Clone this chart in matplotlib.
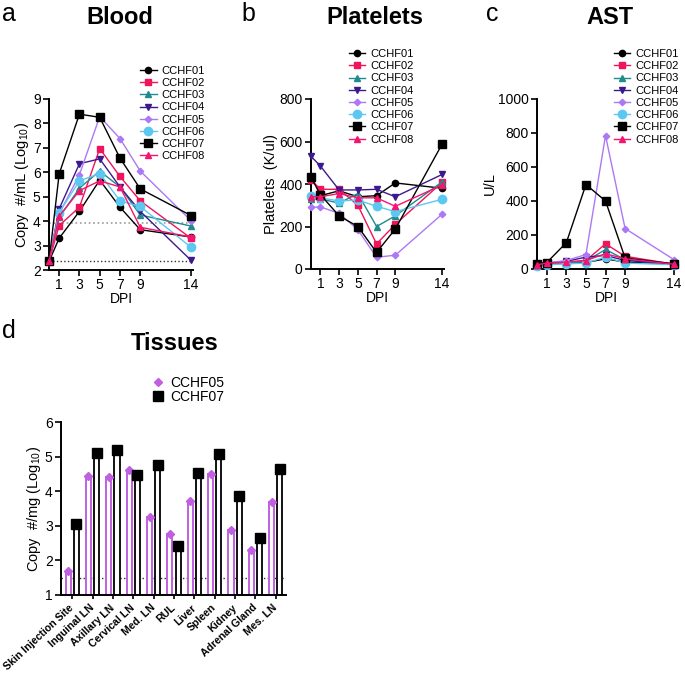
import numpy as np
import matplotlib
matplotlib.use("Agg")
import matplotlib.pyplot as plt

plt.rcParams['font.family'] = ['Liberation Sans', 'DejaVu Sans']
plt.rcParams['mathtext.default'] = 'regular'

days = [0, 1, 3, 5, 7, 9, 14]
animals = ['CCHF01', 'CCHF02', 'CCHF03', 'CCHF04', 'CCHF05', 'CCHF06', 'CCHF07', 'CCHF08']
colors = ['#000000', '#F0145A', '#1E8C8C', '#3C1A8C', '#AD78F5', '#5CC8F2', '#000000', '#F5146E']
markers = ['o', 's', '^', 'v', 'D', 'o', 's', '^']
msizes = [4.5, 5, 5, 5, 3.3, 6, 6, 5]

# viral RNA in blood, log10 copies/mL
blood = [
    [2.35, 3.30, 4.40, 5.68, 4.57, 3.65, 3.35],
    [2.35, 3.82, 4.57, 6.97, 5.83, 4.83, 3.30],
    [2.35, 4.15, 5.35, 6.05, 5.40, 4.25, 3.80],
    [2.35, 4.50, 6.35, 6.55, 5.40, 4.40, 2.40],
    [2.35, 4.30, 5.90, 8.28, 7.38, 6.05, 4.02],
    [2.35, 4.35, 5.65, 5.95, 4.83, 4.60, 2.93],
    [2.35, 5.93, 8.38, 8.25, 6.58, 5.32, 4.23],
    [2.35, 4.20, 5.25, 5.65, 5.40, 3.75, 3.35],
]
blood_lod = [3.92, 2.35]

platelets = [
    [335, 345, 368, 340, 345, 405, 380],
    [420, 375, 375, 300, 118, 210, 408],
    [330, 330, 310, 355, 200, 250, 410],
    [530, 485, 372, 372, 375, 340, 445],
    [290, 292, 262, 185, 55, 65, 258],
    [345, 335, 320, 325, 295, 270, 328],
    [432, 350, 250, 200, 78, 188, 588],
    [340, 340, 355, 335, 335, 295, 395],
]

ast = [
    [30, 38, 35, 38, 60, 40, 30],
    [25, 32, 40, 50, 148, 75, 28],
    [20, 25, 35, 45, 115, 55, 25],
    [25, 35, 45, 70, 80, 50, 30],
    [25, 35, 50, 85, 785, 238, 55],
    [20, 25, 30, 35, 70, 35, 25],
    [30, 38, 155, 497, 400, 65, 30],
    [25, 35, 40, 50, 90, 60, 28],
]

tissues = ['Skin Injection Site', 'Inguinal LN', 'Axillary LN', 'Cervical LN', 'Med. LN', 'RUL',
           'Liver', 'Spleen', 'Kidney', 'Adrenal Gland', 'Mes. LN']
tis05 = [1.70, 4.43, 4.42, 4.60, 3.25, 2.77, 3.73, 4.50, 2.87, 2.30, 3.68]
tis07 = [3.05, 5.10, 5.20, 4.47, 4.75, 2.43, 4.53, 5.08, 3.87, 2.65, 4.65]
tissue_lod = 1.5

fig = plt.figure(figsize=(6.85, 6.75), dpi=100)
W, H = 685.0, 675.0


def add_ax(l, t, r, b):
    return fig.add_axes([l / W, 1 - b / H, (r - l) / W, (b - t) / H])


def style(ax):
    for s in ['top', 'right']:
        ax.spines[s].set_visible(False)
    for s in ['left', 'bottom']:
        ax.spines[s].set_linewidth(1.4)
    ax.tick_params(width=1.2, length=4, labelsize=10, pad=2)


def line_panel(ax, data, ylim, yticks, ylabel, leg_anchor):
    for i in range(len(animals)):
        ax.plot(days, data[i], color=colors[i], marker=markers[i], ms=msizes[i],
                lw=1, label=animals[i], clip_on=False, zorder=3 + i * 0.1)
    ax.set_xlim(0, 14.2)
    ax.set_ylim(*ylim)
    ax.set_xticks([1, 3, 5, 7, 9, 14])
    ax.set_yticks(yticks)
    ax.set_xlabel('DPI', fontsize=10, labelpad=0)
    ax.set_ylabel(ylabel, fontsize=10.5, labelpad=1)
    style(ax)
    ax.legend(loc='upper left', bbox_to_anchor=leg_anchor, frameon=False, fontsize=8,
              handlelength=1.5, handletextpad=0.45, labelspacing=0.2, borderaxespad=0)


ax_a = add_ax(49, 99, 193, 270)
line_panel(ax_a, blood, (2, 9), range(2, 10), 'Copy  #/mL (Log$_{10}$)', (0.6, 1.22))
ax_a.axhline(blood_lod[0], color='#999999', ls=':', lw=1.2, zorder=1)
ax_a.axhline(blood_lod[1], color='#333333', ls=':', lw=1.0, zorder=1)

ax_b = add_ax(311, 99, 444, 269)
line_panel(ax_b, platelets, (0, 800), range(0, 801, 200), 'Platelets  (K/ul)', (0.25, 1.32))

ax_c = add_ax(537, 99, 676, 269)
line_panel(ax_c, ast, (0, 1000), range(0, 1001, 200), 'U/L', (0.52, 1.32))

fig.text(0.003, 0.997, 'a', fontsize=18, va='top', ha='left')
fig.text(0.352, 0.997, 'b', fontsize=18, va='top', ha='left')
fig.text(0.709, 0.997, 'c', fontsize=18, va='top', ha='left')
fig.text(0.003, 0.527, 'd', fontsize=18, va='top', ha='left')
fig.text(120 / W, 1 - 18 / H, 'Blood', fontsize=17, fontweight='bold', ha='center', va='center')
fig.text(375 / W, 1 - 18 / H, 'Platelets', fontsize=17, fontweight='bold', ha='center', va='center')
fig.text(610 / W, 1 - 18 / H, 'AST', fontsize=17, fontweight='bold', ha='center', va='center')
fig.text(175 / W, 1 - 343 / H, 'Tissues', fontsize=17, fontweight='bold', ha='center', va='center')

# tissues panel
ax_d = add_ax(61, 422, 286, 595)
style(ax_d)
x = np.arange(len(tissues))
off = 0.2
ax_d.bar(x - off, np.array(tis05) - 1, bottom=1, width=0.25, facecolor='white',
         edgecolor='#C060E0', lw=1.4, zorder=2)
ax_d.bar(x + off, np.array(tis07) - 1, bottom=1, width=0.25, facecolor='white',
         edgecolor='#111111', lw=1.4, zorder=2)
ax_d.plot(x - off, tis05, ls='none', marker='D', ms=4.5, color='#C060E0', zorder=3,
          label='CCHF05', clip_on=False)
ax_d.plot(x + off, tis07, ls='none', marker='s', ms=6.5, color='black', zorder=3,
          label='CCHF07', clip_on=False)
ax_d.axhline(tissue_lod, color='#333333', ls=':', lw=1.0, zorder=1)
ax_d.set_xlim(-0.55, 10.5)
ax_d.set_ylim(1, 6)
ax_d.set_yticks(range(1, 7))
ax_d.set_xticks(x)
ax_d.tick_params(axis='x', length=3, pad=5)
ax_d.set_xticklabels(tissues, rotation=43, ha='right', va='center', rotation_mode='anchor',
                     fontsize=7.6, fontweight='bold')
ax_d.set_ylabel('Copy  #/mg (Log$_{10}$)', fontsize=10.5, labelpad=1)
ax_d.legend(loc='upper left', bbox_to_anchor=(0.38, 1.3), frameon=False, fontsize=10,
            handlelength=0.8, handletextpad=0.5, labelspacing=0.0, borderaxespad=0)

fig.savefig('out.png', dpi=100)
